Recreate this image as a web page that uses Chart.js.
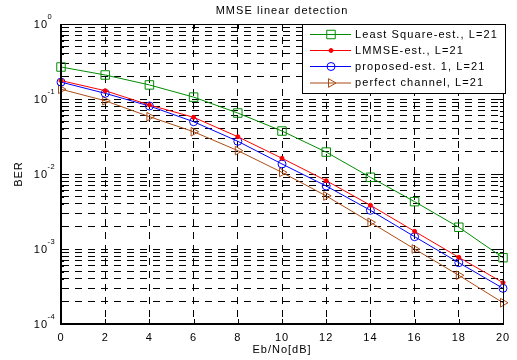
<!DOCTYPE html>
<html>
<head>
<meta charset="utf-8">
<script src="https://cdn.jsdelivr.net/npm/chart.js@4.4.1/dist/chart.umd.min.js"></script>
<style>
  html, body { margin: 0; padding: 0; background: #ffffff; }
  #wrap { width: 517px; height: 360px; position: relative; }
</style>
</head>
<body>
<div id="wrap"><canvas id="c"></canvas></div>
<script>
// ---- data ----
const ebNo = [0, 2, 4, 6, 8, 10, 12, 14, 16, 18, 20];
const lsBER       = [0.267, 0.209, 0.154, 0.106, 0.065, 0.0374, 0.0196, 0.00904, 0.00428, 0.00195, 0.000766];
const lmmseBER    = [0.176, 0.129, 0.0832, 0.057, 0.0314, 0.0162, 0.00815, 0.00383, 0.00172, 0.000774, 0.000356];
const proposedBER = [0.168, 0.119, 0.0807, 0.0498, 0.0273, 0.0136, 0.00692, 0.00328, 0.00146, 0.000657, 0.000299];
const perfectBER  = [0.135, 0.0948, 0.0581, 0.0366, 0.0205, 0.0105, 0.0051, 0.00227, 0.001, 0.000446, 0.000192];
const seriesNames = ['Least Square-est., L=21', 'LMMSE-est., L=21', 'proposed-est. 1, L=21', 'perfect channel, L=21'];
const xTickValues = [0, 2, 4, 6, 8, 10, 12, 14, 16, 18, 20];
const yDecades = [1e-4, 1e-3, 1e-2, 1e-1, 1];
const yDecadeExponents = ['-4', '-3', '-2', '-1', '0'];
const yMinorMultipliers = [1, 2, 3, 4, 5, 6, 7, 8, 9];
const chartTitle = 'MMSE linear detection';
const xAxisTitle = 'Eb/No[dB]';
const yAxisTitle = 'BER';

const FONT = "'Liberation Sans', Arial, Helvetica, sans-serif";
const COLORS = ['rgb(0,140,0)', 'rgb(255,0,0)', 'rgb(0,0,255)', 'rgb(170,75,20)'];
const DASH = [7, 6];

function mk(i, values, style, radius, rotation, fill) {
  return {
    label: seriesNames[i],
    data: ebNo.map((x, k) => ({ x: x, y: values[k] })),
    borderColor: COLORS[i],
    backgroundColor: 'transparent',
    borderWidth: 1,
    pointStyle: style,
    pointRadius: radius,
    pointHoverRadius: radius,
    pointRotation: rotation,
    pointBorderWidth: 1,
    pointBorderColor: COLORS[i],
    pointBackgroundColor: fill ? COLORS[i] : 'transparent',
    tension: 0,
    clip: false
  };
}

const datasets = [
  mk(0, lsBER, 'rect', 6, 0, false),
  mk(1, lmmseBER, 'circle', 2, 0, true),
  mk(2, proposedBER, 'circle', 4, 0, false),
  mk(3, perfectBER, 'triangle', 5, 90, false)
];

function drawMarker(ctx, style, r, cx, cy, rot, color, fill) {
  ctx.save();
  ctx.strokeStyle = color;
  ctx.fillStyle = color;
  ctx.lineWidth = 1;
  ctx.beginPath();
  if (style === 'rect') {
    const s = Math.SQRT1_2 * r;
    ctx.rect(cx - s, cy - s, 2 * s, 2 * s);
  } else if (style === 'circle') {
    ctx.arc(cx, cy, r, 0, Math.PI * 2);
  } else if (style === 'triangle') {
    let a = rot * Math.PI / 180;
    ctx.moveTo(cx + Math.sin(a) * r, cy - Math.cos(a) * r);
    a += 2 * Math.PI / 3;
    ctx.lineTo(cx + Math.sin(a) * r, cy - Math.cos(a) * r);
    a += 2 * Math.PI / 3;
    ctx.lineTo(cx + Math.sin(a) * r, cy - Math.cos(a) * r);
    ctx.closePath();
  }
  if (fill) ctx.fill();
  ctx.stroke();
  ctx.restore();
}

// set font + letter spacing robustly (force re-application)
function setText(ctx, size, spacing) {
  ctx.font = size + 'px ' + FONT;
  ctx.letterSpacing = '0px';
  ctx.letterSpacing = spacing + 'px';
}

const matlabPlugin = {
  id: 'matlabLook',
  beforeDraw(chart) {
    chart.ctx.letterSpacing = '0px';
    chart.ctx.letterSpacing = '1px';
  },
  afterDraw(chart) {
    const ctx = chart.ctx;
    const a = chart.chartArea;
    const xs = chart.scales.x, ys = chart.scales.y;
    ctx.save();
    // tick marks (inward, all four sides)
    ctx.strokeStyle = '#000';
    ctx.lineWidth = 1;
    ctx.beginPath();
    xTickValues.forEach(v => {
      const px = Math.round(xs.getPixelForValue(v)) + 0.5;
      ctx.moveTo(px, a.bottom); ctx.lineTo(px, a.bottom - 5);
      ctx.moveTo(px, a.top); ctx.lineTo(px, a.top + 5);
    });
    ys.ticks.forEach(t => {
      const py = Math.round(ys.getPixelForValue(t.value)) + 0.5;
      const len = t.major ? 5 : 3;
      ctx.moveTo(a.left, py); ctx.lineTo(a.left + len, py);
      ctx.moveTo(a.right, py); ctx.lineTo(a.right - len, py);
    });
    ctx.stroke();
    // box: 1px top/right, 2px left/bottom like the reference
    const L = Math.round(a.left), R = Math.round(a.right), T = Math.round(a.top), B = Math.round(a.bottom);
    ctx.fillStyle = '#000';
    ctx.fillRect(L - 1, T, 2, B - T + 1);
    ctx.fillRect(L - 1, B - 1, R - L + 2, 2);
    ctx.fillRect(L - 1, T, R - L + 1, 1);
    ctx.fillRect(R, T, 1, B - T + 1);
    // y tick labels 10^n
    ctx.fillStyle = '#000';
    yDecades.forEach((d, i) => {
      const py = ys.getPixelForValue(d);
      setText(ctx, 11, 1);
      ctx.textAlign = 'right';
      ctx.textBaseline = 'middle';
      ctx.fillText('10', 48, py + 0.5);
      setText(ctx, 7.5, 0.5);
      ctx.textAlign = 'left';
      ctx.fillText(yDecadeExponents[i], 47.5, py - 7);
    });
    // title
    setText(ctx, 11, 1.05);
    ctx.textAlign = 'center';
    ctx.textBaseline = 'middle';
    ctx.fillText(chartTitle, (a.left + a.right) / 2, 11);
    // legend
    const lx = 302.5, ly = 24.5, lw = 203, lh = 69;
    ctx.fillStyle = '#fff';
    ctx.fillRect(lx, ly, lw, lh);
    ctx.strokeStyle = '#000';
    ctx.lineWidth = 1;
    ctx.strokeRect(lx, ly, lw, lh);
    const rows = [34.5, 50.5, 66.5, 83];
    chart.data.datasets.forEach((ds, i) => {
      const y = rows[i];
      ctx.strokeStyle = ds.borderColor;
      ctx.lineWidth = 1;
      ctx.beginPath();
      ctx.moveTo(310, y); ctx.lineTo(351, y);
      ctx.stroke();
      drawMarker(ctx, ds.pointStyle, ds.pointRadius, 331, y, ds.pointRotation || 0,
                 ds.borderColor, ds.pointBackgroundColor !== 'transparent');
      ctx.fillStyle = '#000';
      setText(ctx, 11, 1.1);
      ctx.textAlign = 'left';
      ctx.textBaseline = 'middle';
      ctx.fillText(ds.label, 355, y);
    });
    ctx.restore();
  }
};

new Chart(document.getElementById('c'), {
  type: 'line',
  data: { datasets: datasets },
  plugins: [matlabPlugin],
  options: {
    responsive: true,
    maintainAspectRatio: false,
    animation: false,
    events: [],
    layout: { padding: { top: 24, right: 14, left: 0, bottom: 0 } },
    plugins: { legend: { display: false }, tooltip: { enabled: false }, title: { display: false } },
    scales: {
      x: {
        type: 'linear',
        min: 0, max: 20,
        afterBuildTicks: s => { s.ticks = xTickValues.map(v => ({ value: v })); },
        ticks: { color: '#000', font: { family: FONT, size: 11 }, padding: 7, maxRotation: 0, autoSkip: false },
        grid: { color: '#000', lineWidth: 1, drawTicks: false },
        border: { display: true, color: '#000', width: 1, dash: DASH },
        title: { display: true, text: xAxisTitle, color: '#000', font: { family: FONT, size: 11 }, padding: { top: 0, bottom: 3 } },
        afterFit: s => { s.height = 36; }
      },
      y: {
        type: 'logarithmic',
        min: 1e-4, max: 1,
        afterBuildTicks: s => {
          const t = [];
          for (let i = 0; i < yDecades.length - 1; i++) {
            yMinorMultipliers.forEach(m => t.push({ value: m * yDecades[i], major: m === 1 }));
          }
          t.push({ value: yDecades[yDecades.length - 1], major: true });
          s.ticks = t;
        },
        ticks: { display: false },
        grid: { color: '#000', lineWidth: 1, drawTicks: false },
        border: { display: true, color: '#000', width: 1, dash: DASH },
        title: { display: true, text: yAxisTitle, color: '#000', font: { family: FONT, size: 11 }, padding: { top: 12, bottom: 0 } },
        afterFit: s => { s.width = 61; }
      }
    }
  }
});
</script>
</body>
</html>
